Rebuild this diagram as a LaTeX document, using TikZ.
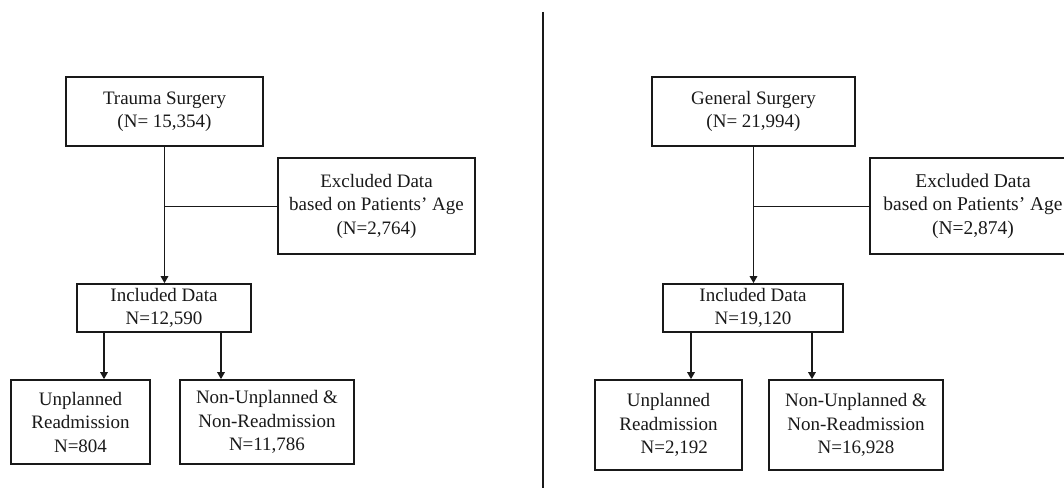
\documentclass[tikz,border=0pt]{standalone}
\usepackage{fontspec}
\setmainfont{Liberation Serif}
\usetikzlibrary{arrows.meta}
\begin{document}
\begin{tikzpicture}[x=1pt,y=-1pt,
  box/.style={draw=black!90, text=black!90, line width=1.7pt, inner sep=0pt, align=center,
    font=\fontsize{19}{23.5}\selectfont},
  conn/.style={draw=black!90, line width=1.5pt},
  thin/.style={draw=black!90, line width=1pt},
  arr/.style={conn, -{Triangle[length=7pt,width=7.5pt]}}]
\useasboundingbox (0,0) rectangle (1064,489);
% ---------- left panel ----------
\node[box, minimum width=197pt, minimum height=69pt] (trauma) at (164.5,111.5) {Trauma Surgery\\(N= 15,354)};
\node[box, minimum width=197pt, minimum height=96pt] (excl) at (376.5,206) {Excluded Data\\based on Patients' Age\\(N=2,764)};
\node[box, minimum width=174pt, minimum height=48pt] (incl) at (164,308) {Included Data\\N=12,590};
\node[box, minimum width=139pt, minimum height=84pt] (unpl) at (80.5,422) {Unplanned\\Readmission\\N=804};
\node[box, minimum width=174pt, minimum height=84pt] (non) at (267,422) {Non-Unplanned \&\\Non-Readmission\\N=11,786};
\coordinate (la) at (104,0);
\coordinate (lb) at (221,0);
\draw[arr] (trauma.south) -- (trauma.south |- incl.north);
\draw[thin] (excl.west) -- (trauma.south |- excl.west);
\draw[arr] (incl.south -| la) -- (unpl.north -| la);
\draw[arr] (incl.south -| lb) -- (non.north -| lb);
% ---------- divider ----------
\coordinate (dtop) at (543,12);
\coordinate (dbot) at (543,488);
\draw[draw=black!90, line width=1.8pt] (dtop) -- (dbot);
% ---------- right panel ----------
\node[box, minimum width=203pt, minimum height=69pt] (gen) at (753.5,111.5) {General Surgery\\(N= 21,994)};
\node[box, minimum width=206pt, minimum height=96pt, font=\fontsize{19.5}{23.5}\selectfont] (excl2) at (973,206) {Excluded Data\\based on Patients' Age\\(N=2,874)};
\node[box, minimum width=180pt, minimum height=48pt] (incl2) at (753,308) {Included Data\\N=19,120};
\node[box, minimum width=147pt, minimum height=90pt] (unpl2) at (668.5,425) {Unplanned\\Readmission\\\hspace{0.6em}N=2,192};
\node[box, minimum width=174pt, minimum height=90pt] (non2) at (856,425) {Non-Unplanned \&\\Non-Readmission\\N=16,928};
\coordinate (ra) at (691,0);
\coordinate (rb) at (812,0);
\draw[arr] (gen.south) -- (gen.south |- incl2.north);
\draw[thin] (excl2.west) -- (gen.south |- excl2.west);
\draw[arr] (incl2.south -| ra) -- (unpl2.north -| ra);
\draw[arr] (incl2.south -| rb) -- (non2.north -| rb);
\end{tikzpicture}
\end{document}
